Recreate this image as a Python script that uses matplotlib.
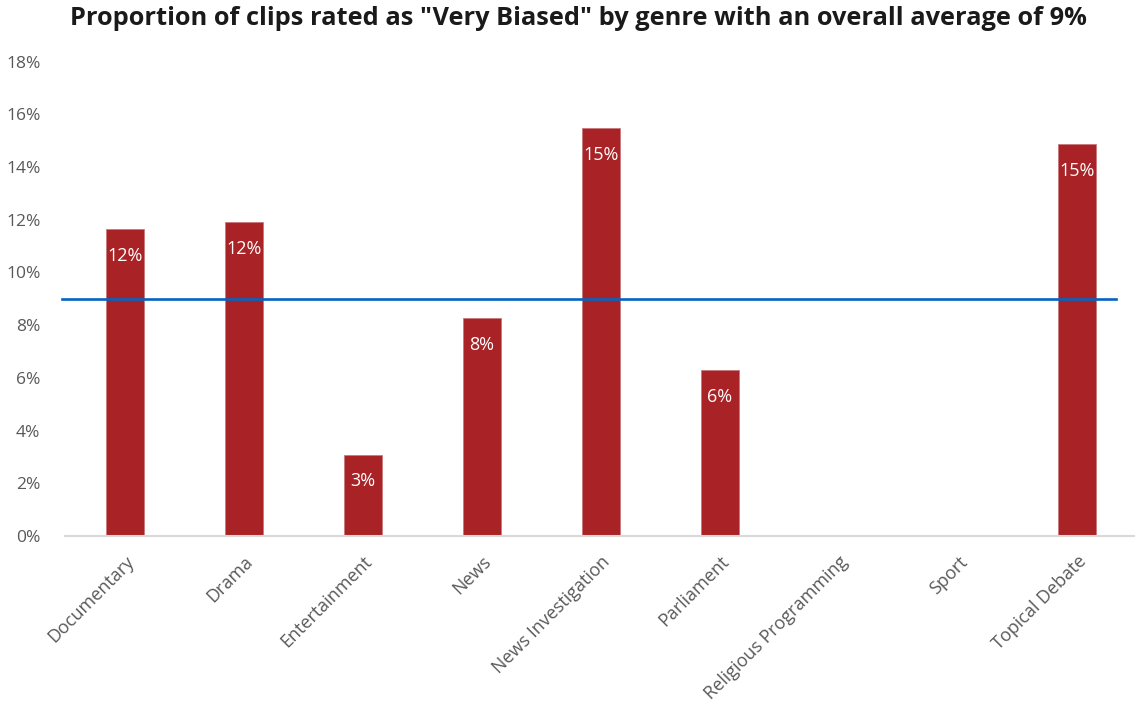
import matplotlib.pyplot as plt
from matplotlib.ticker import FuncFormatter

plt.rcParams['font.family'] = ['Open Sans', 'DejaVu Sans']

genres = ['Documentary', 'Drama', 'Entertainment', 'News', 'News Investigation',
          'Parliament', 'Religious Programming', 'Sport', 'Topical Debate']
very_biased = [11.64, 11.9, 3.09, 8.26, 15.47, 6.29, 0, 0, 14.86]
overall_avg = 9.0

fig = plt.figure(figsize=(11.35, 7.03), dpi=100)
ax = fig.add_axes([0.0577, 0.2376, 0.9437, 0.6746])

x = range(len(genres))
bars = ax.bar(x, very_biased, width=0.32, color='#A82226', edgecolor='#C8787A', linewidth=0.6, zorder=2)

# average line (doesn't quite run to the right edge in the original)
ax.axhline(overall_avg, xmin=-0.003, xmax=0.981, color='#0563C1', linewidth=1.9, zorder=3, clip_on=False)

for b, v in zip(bars, very_biased):
    if v > 0:
        ax.annotate(f'{v:.0f}%', (b.get_x() + b.get_width() / 2, v), xytext=(0, -19),
                    textcoords='offset points', ha='center', va='center',
                    color='white', fontsize=13, zorder=4)

ax.set_xlim(-0.5, 8.5)
ax.set_ylim(0, 18)
ax.set_yticks(range(0, 19, 2))
ax.yaxis.set_major_formatter(FuncFormatter(lambda v, p: f'{v:.0f}%'))
ax.set_xticks(list(x))
ax.set_xticklabels(genres, rotation=45, ha='right', rotation_mode='anchor')

for s in ['top', 'right', 'left']:
    ax.spines[s].set_visible(False)
ax.spines['bottom'].set_color('#D9D9D9')
ax.spines['bottom'].set_linewidth(1.5)
ax.tick_params(axis='y', length=0, labelsize=12.5, labelcolor='#595959', pad=18)
ax.tick_params(axis='x', length=0, labelsize=13, labelcolor='#595959', pad=12)

fig.suptitle('Proportion of clips rated as "Very Biased" by genre with an overall average of 9%',
             x=0.51, y=0.992, fontsize=18.3, fontweight='bold', color='#1A1A1A', va='top')

fig.savefig('out.png', dpi=100)
